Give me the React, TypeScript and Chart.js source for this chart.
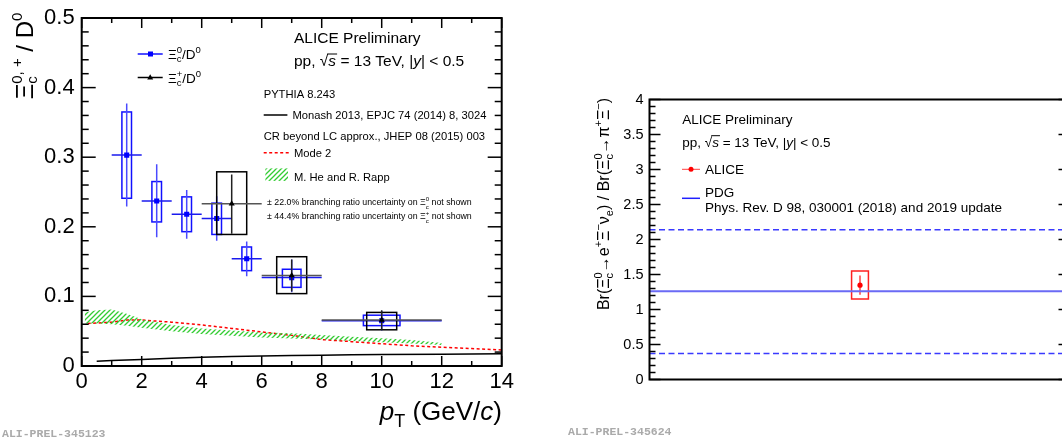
import React, { useEffect, useRef } from "react";
import { Chart, registerables } from "chart.js";

Chart.register(...registerables);

const FAM = '"Liberation Sans", Arial, Helvetica, sans-serif';
const MONO = '"Liberation Mono", "DejaVu Sans Mono", monospace';

// ---------------- Left panel: Xi_c / D0 vs pT ----------------
const xiC0Pt = [1.5, 2.5, 3.5, 4.5, 5.5, 7, 10];
const xiC0BinHalfWidth = [0.5, 0.5, 0.5, 0.5, 0.5, 1, 2];
const xiC0Ratio = [0.303, 0.237, 0.218, 0.212, 0.154, 0.127, 0.065];
const xiC0StatLow = [0.229, 0.185, 0.183, 0.18, 0.129, 0.106, 0.051];
const xiC0StatHigh = [0.377, 0.29, 0.253, 0.244, 0.179, 0.153, 0.079];
const xiC0SystLow = [0.241, 0.207, 0.193, 0.189, 0.137, 0.113, 0.058];
const xiC0SystHigh = [0.365, 0.265, 0.243, 0.234, 0.171, 0.139, 0.073];
const xiC0SystHalfWidth = [0.16, 0.16, 0.16, 0.16, 0.16, 0.31, 0.61];

const xiCpPt = [5, 7, 10];
const xiCpBinHalfWidth = [1, 1, 2];
const xiCpRatio = [0.233, 0.13, 0.066];
const xiCpStatLow = [0.19, 0.107, 0.052];
const xiCpStatHigh = [0.275, 0.153, 0.08];
const xiCpSystLow = [0.189, 0.104, 0.052];
const xiCpSystHigh = [0.279, 0.157, 0.077];
const xiCpSystHalfWidth = [0.5, 0.5, 0.5];

const monashPt = [0.5, 1, 2, 3, 4, 5, 6, 7, 8, 9, 10, 12, 14];
const monashRatio = [0.007, 0.008, 0.0095, 0.011, 0.0125, 0.0135, 0.0145, 0.015, 0.0155, 0.016, 0.0165, 0.017, 0.0175];

const mode2Pt = [0.2, 1, 1.5, 2, 3, 4, 5, 6, 7, 8, 9, 10, 11, 12, 13, 14];
const mode2Ratio = [0.061, 0.063, 0.066, 0.066, 0.063, 0.059, 0.054, 0.049, 0.044, 0.038, 0.035, 0.032, 0.029, 0.027, 0.025, 0.023];

const heRappPt = [0.1, 0.5, 1, 1.5, 2, 3, 4, 5, 6, 7, 8, 9, 10, 11, 12];
const heRappUpper = [0.077, 0.08, 0.081, 0.075, 0.067, 0.059, 0.054, 0.051, 0.048, 0.047, 0.0445, 0.042, 0.04, 0.0375, 0.033];
const heRappLower = [0.061, 0.061, 0.06, 0.058, 0.055, 0.05, 0.046, 0.0435, 0.041, 0.0395, 0.038, 0.036, 0.034, 0.0325, 0.03];

// ---------------- Right panel: branching-ratio ratio ----------------
const brX = [0.5];
const brValue = [1.347];
const brStatLow = [1.21];
const brStatHigh = [1.486];
const brSystLow = [1.15];
const brSystHigh = [1.55];
const brSystHalfWidth = [0.02];
const pdgX = [0, 1];
const pdgCentral = 1.26;
const pdgUpper = 2.14;
const pdgLower = 0.37;

type Part = { t: string; s: number; dy?: number; it?: boolean; stack?: boolean; ov?: boolean };

function fontOf(p: Part) {
  return `${p.it ? "italic " : ""}${p.s}px ${FAM}`;
}
function richWidth(ctx: CanvasRenderingContext2D, parts: Part[]) {
  let w = 0;
  let pend = 0;
  for (const p of parts) {
    ctx.font = fontOf(p);
    const pw = ctx.measureText(p.t).width;
    if (p.stack) {
      pend = pw;
      continue;
    }
    w += Math.max(pw, pend);
    pend = 0;
  }
  return w + pend;
}
function drawRich(
  ctx: CanvasRenderingContext2D,
  parts: Part[],
  x: number,
  y: number,
  align: "left" | "right" | "center" = "left",
  rot = 0,
  color = "#000"
) {
  ctx.save();
  ctx.translate(x, y);
  if (rot) ctx.rotate(rot);
  const W = richWidth(ctx, parts);
  let cx = align === "left" ? 0 : align === "right" ? -W : -W / 2;
  ctx.fillStyle = color;
  ctx.strokeStyle = color;
  ctx.textBaseline = "alphabetic";
  ctx.textAlign = "left";
  let pend = 0;
  for (const p of parts) {
    ctx.font = fontOf(p);
    const pw = ctx.measureText(p.t).width;
    ctx.fillText(p.t, cx, p.dy || 0);
    if (p.ov) {
      ctx.lineWidth = 1;
      ctx.beginPath();
      ctx.moveTo(cx - 1, (p.dy || 0) - p.s * 0.8);
      ctx.lineTo(cx + pw + 1, (p.dy || 0) - p.s * 0.8);
      ctx.stroke();
    }
    if (p.stack) {
      pend = pw;
      continue;
    }
    cx += Math.max(pw, pend);
    pend = 0;
  }
  ctx.restore();
}

function seg(ctx: CanvasRenderingContext2D, x1: number, y1: number, x2: number, y2: number) {
  ctx.beginPath();
  ctx.moveTo(x1, y1);
  ctx.lineTo(x2, y2);
  ctx.stroke();
}

function drawErrors(
  chart: any,
  xs: number[],
  vals: number[],
  halfBin: number[],
  stLo: number[],
  stHi: number[],
  syLo: number[],
  syHi: number[],
  syHalf: number[],
  boxColor: string,
  barColor: string,
  hColor: string
) {
  const { ctx, scales } = chart;
  const x = scales.x;
  const y = scales.y;
  const a = chart.chartArea;
  ctx.save();
  ctx.beginPath();
  ctx.rect(a.left, a.top, a.right - a.left, a.bottom - a.top);
  ctx.clip();
  ctx.lineWidth = 1.5;
  for (let i = 0; i < xs.length; i++) {
    const px = x.getPixelForValue(xs[i]);
    const py = y.getPixelForValue(vals[i]);
    const bx1 = x.getPixelForValue(xs[i] - syHalf[i]);
    const bx2 = x.getPixelForValue(xs[i] + syHalf[i]);
    const by1 = y.getPixelForValue(syHi[i]);
    const by2 = y.getPixelForValue(syLo[i]);
    ctx.strokeStyle = boxColor;
    ctx.strokeRect(bx1, by1, bx2 - bx1, by2 - by1);
    ctx.strokeStyle = barColor;
    seg(ctx, px, y.getPixelForValue(stHi[i]), px, y.getPixelForValue(stLo[i]));
    if (halfBin[i] > 0) {
      ctx.strokeStyle = hColor;
      seg(ctx, x.getPixelForValue(xs[i] - halfBin[i]), py, x.getPixelForValue(xs[i] + halfBin[i]), py);
    }
  }
  ctx.restore();
}

function makeHatch(): CanvasPattern | string {
  const pc = document.createElement("canvas");
  pc.width = 5;
  pc.height = 5;
  const g = pc.getContext("2d");
  if (!g) return "rgba(51,204,51,0.5)";
  g.strokeStyle = "#33cc33";
  g.lineWidth = 1.3;
  g.beginPath();
  g.moveTo(0, 5);
  g.lineTo(5, 0);
  g.moveTo(-1, 1);
  g.lineTo(1, -1);
  g.moveTo(4, 6);
  g.lineTo(6, 4);
  g.stroke();
  const pat = g.createPattern(pc, "repeat");
  return pat || "rgba(51,204,51,0.5)";
}

function leftPlugin(hatch: any) {
  return {
    id: "leftDecor",
    beforeDatasetDraw(chart: any, args: any) {
      const lbl = chart.data.datasets[args.index].label;
      if (lbl === "xicp") {
        drawErrors(chart, xiCpPt, xiCpRatio, xiCpBinHalfWidth, xiCpStatLow, xiCpStatHigh, xiCpSystLow, xiCpSystHigh, xiCpSystHalfWidth, "#000", "#222", "#555");
      }
      if (lbl === "xic0") {
        drawErrors(chart, xiC0Pt, xiC0Ratio, xiC0BinHalfWidth, xiC0StatLow, xiC0StatHigh, xiC0SystLow, xiC0SystHigh, xiC0SystHalfWidth, "#1010ff", "#4a4aff", "#1a1aee");
      }
    },
    afterDraw(chart: any) {
      const { ctx, chartArea, scales } = chart;
      const { left, right, top, bottom } = chartArea;
      const x = scales.x;
      const y = scales.y;
      ctx.save();
      ctx.strokeStyle = "#000";
      ctx.lineWidth = 1.5;
      for (let i = 0; i <= 25; i++) {
        const py = y.getPixelForValue(i * 0.02);
        const len = i % 5 === 0 ? 14 : 7;
        seg(ctx, left, py, left + len, py);
        seg(ctx, right, py, right - len, py);
      }
      for (let i = 0; i <= 14; i++) {
        const px = x.getPixelForValue(i);
        const len = i % 2 === 0 ? 10 : 5;
        seg(ctx, px, bottom, px, bottom - len);
        seg(ctx, px, top, px, top + len);
      }
      ctx.lineWidth = 2;
      ctx.strokeRect(left, top, right - left, bottom - top);

      // header
      drawRich(ctx, [{ t: "ALICE Preliminary", s: 15.5 }], 294, 42.7);
      drawRich(
        ctx,
        [
          { t: "pp, ", s: 15.5 },
          { t: "√", s: 15.5 },
          { t: "s", s: 15.5, it: true, ov: true },
          { t: " = 13 TeV, |", s: 15.5 },
          { t: "y", s: 15.5, it: true },
          { t: "| < 0.5", s: 15.5 },
        ],
        294,
        66.4
      );

      // data legend
      ctx.lineWidth = 1.5;
      ctx.strokeStyle = "#1010ff";
      seg(ctx, 137.7, 54, 162.7, 54);
      ctx.fillStyle = "#0000ff";
      ctx.fillRect(148, 51.5, 5, 5);
      drawRich(
        ctx,
        [
          { t: "Ξ", s: 13.5 },
          { t: "c", s: 9.5, dy: 3, stack: true },
          { t: "0", s: 9.5, dy: -6 },
          { t: "/D", s: 13.5 },
          { t: "0", s: 9.5, dy: -6 },
        ],
        168,
        59
      );
      ctx.strokeStyle = "#000";
      seg(ctx, 137.7, 77.5, 162.7, 77.5);
      ctx.fillStyle = "#000";
      ctx.beginPath();
      ctx.moveTo(150.2, 74.3);
      ctx.lineTo(153.2, 79.5);
      ctx.lineTo(147.2, 79.5);
      ctx.closePath();
      ctx.fill();
      drawRich(
        ctx,
        [
          { t: "Ξ", s: 13.5 },
          { t: "c", s: 9.5, dy: 3, stack: true },
          { t: "+", s: 9.5, dy: -6 },
          { t: "/D", s: 13.5 },
          { t: "0", s: 9.5, dy: -6 },
        ],
        168,
        82.5
      );

      // model legend
      drawRich(ctx, [{ t: "PYTHIA 8.243", s: 11.2 }], 263.7, 97.6);
      ctx.strokeStyle = "#000";
      ctx.lineWidth = 1.5;
      seg(ctx, 263.7, 115, 287.4, 115);
      drawRich(ctx, [{ t: "Monash 2013, EPJC 74 (2014) 8, 3024", s: 11.2 }], 292.4, 119);
      drawRich(ctx, [{ t: "CR beyond LC approx., JHEP 08 (2015) 003", s: 11.2 }], 263.7, 139.6);
      ctx.strokeStyle = "#ff0000";
      ctx.setLineDash([3, 2.5]);
      seg(ctx, 263.7, 152.8, 289, 152.8);
      ctx.setLineDash([]);
      drawRich(ctx, [{ t: "Mode 2", s: 11.2 }], 294, 156.8);
      ctx.fillStyle = hatch;
      ctx.fillRect(265.4, 168.4, 22.6, 12.5);
      drawRich(ctx, [{ t: "M. He and R. Rapp", s: 11.2 }], 294, 180.5);
      drawRich(
        ctx,
        [
          { t: "± 22.0% branching ratio uncertainty on ", s: 8.8 },
          { t: "Ξ", s: 8.8 },
          { t: "c", s: 6, dy: 4, stack: true },
          { t: "0", s: 6, dy: -4 },
          { t: " not shown", s: 8.8 },
        ],
        267,
        205.2
      );
      drawRich(
        ctx,
        [
          { t: "± 44.4% branching ratio uncertainty on ", s: 8.8 },
          { t: "Ξ", s: 8.8 },
          { t: "c", s: 6, dy: 4, stack: true },
          { t: "+", s: 6, dy: -4 },
          { t: " not shown", s: 8.8 },
        ],
        267,
        219.4
      );

      // axis titles
      drawRich(
        ctx,
        [
          { t: "p", s: 26, it: true },
          { t: "T", s: 18, dy: 7 },
          { t: " (GeV/", s: 26 },
          { t: "c", s: 26, it: true },
          { t: ")", s: 26 },
        ],
        502,
        420,
        "right"
      );
      drawRich(
        ctx,
        [
          { t: "Ξ", s: 24 },
          { t: "c", s: 15, dy: 4, stack: true },
          { t: "0, +", s: 15, dy: -11 },
          { t: " / D", s: 24 },
          { t: "0", s: 15, dy: -11 },
        ],
        33,
        56,
        "center",
        -Math.PI / 2
      );

      // watermark
      ctx.font = `bold 11.5px ${MONO}`;
      ctx.fillStyle = "#aaaaaa";
      ctx.textAlign = "left";
      ctx.textBaseline = "alphabetic";
      ctx.fillText("ALI-PREL-345123", 2, 437);
      ctx.restore();
    },
  };
}

const rightPlugin = {
  id: "rightDecor",
  beforeDatasetDraw(chart: any, args: any) {
    const lbl = chart.data.datasets[args.index].label;
    if (lbl === "alice") {
      drawErrors(chart, brX, brValue, [0], brStatLow, brStatHigh, brSystLow, brSystHigh, brSystHalfWidth, "#ff2020", "#ff4040", "#ff4040");
    }
  },
  afterDraw(chart: any) {
    const { ctx, chartArea, scales } = chart;
    const { left, right, top, bottom } = chartArea;
    const y = scales.y;
    ctx.save();
    ctx.strokeStyle = "#000";
    ctx.lineWidth = 1.5;
    for (let i = 0; i <= 40; i++) {
      const py = y.getPixelForValue(i * 0.1);
      const len = i % 5 === 0 ? 11 : 6;
      seg(ctx, left, py, left + len, py);
      seg(ctx, right, py, right - (i % 5 === 0 ? 12 : 6), py);
    }
    ctx.lineWidth = 2;
    ctx.strokeRect(left, top, right - left, bottom - top);

    drawRich(ctx, [{ t: "ALICE Preliminary", s: 13.5 }], 152.3, 124.1);
    drawRich(
      ctx,
      [
        { t: "pp, ", s: 13.5 },
        { t: "√", s: 13.5 },
        { t: "s", s: 13.5, it: true, ov: true },
        { t: " = 13 TeV, |", s: 13.5 },
        { t: "y", s: 13.5, it: true },
        { t: "| < 0.5", s: 13.5 },
      ],
      152.3,
      146.5
    );
    ctx.strokeStyle = "#ff4040";
    ctx.lineWidth = 1;
    seg(ctx, 152, 169.3, 170, 169.3);
    ctx.fillStyle = "#ff0000";
    ctx.beginPath();
    ctx.arc(161, 169.3, 2.5, 0, Math.PI * 2);
    ctx.fill();
    drawRich(ctx, [{ t: "ALICE", s: 13.5 }], 175, 174);
    ctx.strokeStyle = "#2020ff";
    ctx.lineWidth = 1.5;
    seg(ctx, 152, 198.3, 170, 198.3);
    drawRich(ctx, [{ t: "PDG", s: 13.5 }], 175, 196.5);
    drawRich(ctx, [{ t: "Phys. Rev. D 98, 030001 (2018) and 2019 update", s: 13.5 }], 175, 211.5);

    drawRich(
      ctx,
      [
        { t: "Br(", s: 16 },
        { t: "Ξ", s: 16 },
        { t: "c", s: 11, dy: 4, stack: true },
        { t: "0", s: 11, dy: -7 },
        { t: "→e", s: 16 },
        { t: "+", s: 11, dy: -7 },
        { t: "Ξ", s: 16 },
        { t: "−", s: 11, dy: -7 },
        { t: "ν", s: 16 },
        { t: "e", s: 11, dy: 4 },
        { t: ") / Br(", s: 16 },
        { t: "Ξ", s: 16 },
        { t: "c", s: 11, dy: 4, stack: true },
        { t: "0", s: 11, dy: -7 },
        { t: "→π", s: 16 },
        { t: "+", s: 11, dy: -7 },
        { t: "Ξ", s: 16 },
        { t: "−", s: 11, dy: -7 },
        { t: ")", s: 16 },
      ],
      79,
      204,
      "center",
      -Math.PI / 2
    );

    ctx.font = `bold 11.5px ${MONO}`;
    ctx.fillStyle = "#aaaaaa";
    ctx.textAlign = "left";
    ctx.textBaseline = "alphabetic";
    ctx.fillText("ALI-PREL-345624", 38, 435);
    ctx.restore();
  },
};

export default function App() {
  const lRef = useRef<HTMLCanvasElement>(null);
  const rRef = useRef<HTMLCanvasElement>(null);

  useEffect(() => {
    document.body.style.margin = "0";
    const hatch = makeHatch();
    const pts = (xs: number[], ys: number[]) => xs.map((x, i) => ({ x, y: ys[i] }));

    const lc = new Chart(lRef.current as HTMLCanvasElement, {
      type: "line",
      data: {
        datasets: [
          {
            label: "heRappUp",
            data: pts(heRappPt, heRappUpper),
            borderWidth: 0,
            borderColor: "rgba(0,0,0,0)",
            pointRadius: 0,
            fill: "+1",
            backgroundColor: hatch as any,
          },
          {
            label: "heRappLow",
            data: pts(heRappPt, heRappLower),
            borderWidth: 0,
            borderColor: "rgba(0,0,0,0)",
            pointRadius: 0,
            fill: false,
          },
          {
            label: "mode2",
            data: pts(mode2Pt, mode2Ratio),
            borderColor: "#ff0000",
            borderWidth: 1.5,
            borderDash: [3, 2.5],
            pointRadius: 0,
            fill: false,
          },
          {
            label: "monash",
            data: pts(monashPt, monashRatio),
            borderColor: "#000",
            borderWidth: 1.5,
            pointRadius: 0,
            fill: false,
          },
          {
            label: "xicp",
            data: pts(xiCpPt, xiCpRatio),
            showLine: false,
            pointStyle: "triangle",
            pointRadius: 3.5,
            backgroundColor: "#000",
            borderColor: "#000",
            borderWidth: 0,
          },
          {
            label: "xic0",
            data: pts(xiC0Pt, xiC0Ratio),
            showLine: false,
            pointStyle: "rect",
            pointRadius: 3.6,
            backgroundColor: "#0000ff",
            borderColor: "#0000ff",
            borderWidth: 0,
          },
        ],
      },
      options: {
        responsive: false,
        maintainAspectRatio: false,
        animation: false,
        events: [],
        layout: { padding: { top: 11, right: 28.3, left: 0, bottom: 0 } },
        plugins: { legend: { display: false }, tooltip: { enabled: false } },
        scales: {
          x: {
            type: "linear",
            min: 0,
            max: 14,
            grid: { display: false, drawTicks: false },
            border: { display: false },
            ticks: {
              stepSize: 2,
              color: "#000",
              font: { family: FAM, size: 22, lineHeight: 1 },
              padding: 5,
              maxRotation: 0,
              autoSkip: false,
            },
            afterFit: (s: any) => {
              s.height = 73;
            },
          },
          y: {
            type: "linear",
            min: 0,
            max: 0.5,
            grid: { display: false, drawTicks: false },
            border: { display: false },
            ticks: {
              stepSize: 0.1,
              color: "#000",
              font: { family: FAM, size: 22, lineHeight: 1 },
              padding: 7,
              callback: (v: any) => (Number(v) === 0 ? "0" : Number(v).toFixed(1)),
            },
            afterFit: (s: any) => {
              s.width = 81.7;
            },
          },
        },
      } as any,
      plugins: [leftPlugin(hatch)],
    });

    const rc = new Chart(rRef.current as HTMLCanvasElement, {
      type: "line",
      data: {
        datasets: [
          {
            label: "pdgHigh",
            data: pdgX.map((x) => ({ x, y: pdgUpper })),
            borderColor: "#3a3aff",
            borderWidth: 1.5,
            borderDash: [6, 3.5],
            pointRadius: 0,
            fill: false,
          },
          {
            label: "pdgLow",
            data: pdgX.map((x) => ({ x, y: pdgLower })),
            borderColor: "#3a3aff",
            borderWidth: 1.5,
            borderDash: [6, 3.5],
            pointRadius: 0,
            fill: false,
          },
          {
            label: "pdg",
            data: pdgX.map((x) => ({ x, y: pdgCentral })),
            borderColor: "#6a6af5",
            borderWidth: 2,
            pointRadius: 0,
            fill: false,
          },
          {
            label: "alice",
            data: brX.map((x, i) => ({ x, y: brValue[i] })),
            showLine: false,
            pointStyle: "circle",
            pointRadius: 2.6,
            backgroundColor: "#ff0000",
            borderColor: "#ff0000",
            borderWidth: 0,
          },
        ],
      },
      options: {
        responsive: false,
        maintainAspectRatio: false,
        animation: false,
        events: [],
        layout: { padding: { top: 99.5, right: 4.5, left: 0, bottom: 0 } },
        plugins: { legend: { display: false }, tooltip: { enabled: false } },
        scales: {
          x: {
            type: "linear",
            min: 0,
            max: 1,
            grid: { display: false, drawTicks: false },
            border: { display: false },
            ticks: { display: false },
            afterFit: (s: any) => {
              s.height = 59.5;
            },
          },
          y: {
            type: "linear",
            min: 0,
            max: 4,
            grid: { display: false, drawTicks: false },
            border: { display: false },
            ticks: {
              stepSize: 0.5,
              color: "#000",
              font: { family: FAM, size: 14.5, lineHeight: 1 },
              padding: 6,
              callback: (v: any) => String(Math.round(Number(v) * 10) / 10),
            },
            afterFit: (s: any) => {
              s.width = 119.5;
            },
          },
        },
      } as any,
      plugins: [rightPlugin],
    });

    return () => {
      lc.destroy();
      rc.destroy();
    };
  }, []);

  return (
    <div style={{ position: "relative", width: 1062, height: 439, overflow: "hidden", background: "#fff" }}>
      <canvas ref={lRef} width={530} height={439} style={{ position: "absolute", left: 0, top: 0 }} />
      <canvas ref={rRef} width={545} height={439} style={{ position: "absolute", left: 530, top: 0 }} />
    </div>
  );
}
